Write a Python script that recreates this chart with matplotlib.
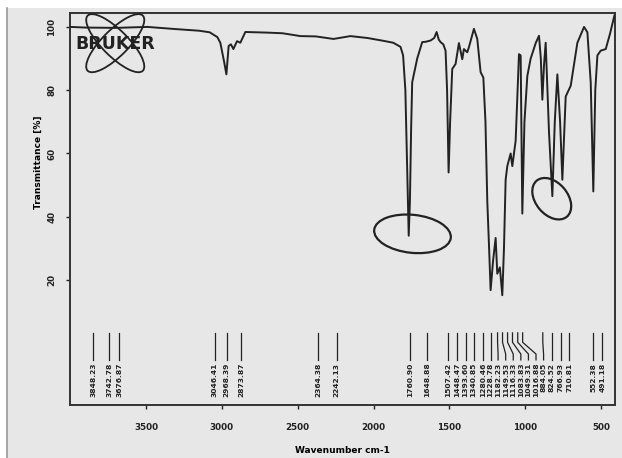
import matplotlib
matplotlib.use("Agg")
import matplotlib.pyplot as plt
from matplotlib.patches import Ellipse, Rectangle
from matplotlib.transforms import ScaledTranslation, blended_transform_factory

# IR spectrum (wavenumber in cm-1, transmittance in %)
wavenumber = [3998, 3900, 3700, 3490, 3300, 3150, 3080, 3030, 3010, 2985, 2970,
              2955, 2940, 2924, 2900, 2878, 2845, 2700, 2600, 2482, 2380, 2264,
              2152, 2040, 1934, 1870, 1822, 1805, 1790, 1778, 1768, 1760, 1752,
              1745, 1712, 1679, 1657, 1624, 1600, 1584, 1570, 1558, 1540, 1525,
              1515, 1505, 1495, 1481, 1459, 1437, 1415, 1404, 1382, 1371, 1338,
              1316, 1294, 1276, 1262, 1250, 1238, 1228, 1212, 1195, 1184, 1167,
              1151, 1140, 1129, 1118, 1096, 1085, 1063, 1041, 1030, 1019, 1005,
              986, 964, 930, 909, 897, 887, 876, 865, 843, 821, 805, 788, 770,
              755, 744, 733, 700, 656, 612, 590, 568, 551, 538, 524, 502, 469,
              440, 412]
transmittance = [100.0, 99.8, 99.7, 100.0, 99.3, 98.8, 98.3, 96.8, 95.0, 89.0, 85.0,
                 94.0, 94.5, 93.0, 95.5, 95.0, 98.4, 98.2, 98.0, 97.1, 97.0, 96.2,
                 97.1, 96.5, 95.6, 95.0, 93.7, 91.0, 80.0, 55.0, 34.0, 45.0, 68.0,
                 82.5, 90.0, 95.2, 95.3, 95.7, 96.5, 98.4, 96.0, 95.2, 94.5, 92.5,
                 80.0, 54.0, 70.0, 86.7, 88.3, 94.9, 89.8, 93.0, 92.0, 93.6, 99.4,
                 96.2, 85.7, 84.0, 70.0, 45.0, 30.0, 16.8, 26.0, 33.3, 22.0, 24.0,
                 15.2, 30.0, 51.7, 56.0, 60.0, 56.0, 64.0, 91.4, 91.0, 41.0, 70.0,
                 84.5, 90.0, 95.0, 97.2, 90.0, 77.0, 88.0, 95.0, 66.6, 46.5, 70.0,
                 85.0, 70.0, 51.7, 65.0, 78.0, 81.4, 95.0, 100.0, 98.3, 82.4, 48.0,
                 80.0, 91.0, 92.5, 93.0, 98.0, 103.6]

# labelled peak positions
peaks = [3848.23, 3742.78, 3676.87, 3046.41, 2968.39, 2873.87, 2364.38, 2242.13,
         1760.90, 1648.88, 1507.42, 1448.47, 1393.60, 1340.85, 1280.46, 1228.78,
         1182.23, 1149.53, 1116.33, 1083.83, 1049.31, 1016.88, 884.05, 824.52,
         766.93, 710.81, 552.38, 491.18]

x_ticks = [3500, 3000, 2500, 2000, 1500, 1000, 500]
y_ticks = [20, 40, 60, 80, 100]

bg = '#e7e7e7'
ink = '#222222'

fig = plt.figure(figsize=(6.22, 4.58), dpi=100, facecolor=bg)
ax = fig.add_axes([70 / 622, 1 - 405 / 458, 545 / 622, 392 / 458], facecolor=bg)

# white page margin at top and left
fig.add_artist(Rectangle((0, 1 - 8 / 458), 1, 8 / 458, transform=fig.transFigure,
                         facecolor='white', edgecolor='none'))
fig.add_artist(Rectangle((0, 0), 6 / 622, 1, transform=fig.transFigure,
                         facecolor='white', edgecolor='none'))
fig.add_artist(plt.Line2D([7 / 622, 7 / 622], [0, 1 - 8 / 458], transform=fig.transFigure,
                          color='#9a9a9a', lw=1.2))

ax.plot(wavenumber, transmittance, color=ink, lw=1.4, zorder=3)
ax.set_xlim(4001, 408)
ax.set_ylim(-19.5, 104.4)

ax.set_xticks(x_ticks)
ax.set_yticks(y_ticks)
ax.tick_params(direction='out', length=3, width=1, colors=ink, labelsize=6.3)
for lab in ax.get_xticklabels():
    lab.set_fontweight('bold')
for lab in ax.get_yticklabels():
    lab.set_fontweight('bold')
    lab.set_rotation(90)
    lab.set_va('center')
ax.tick_params(axis='x', pad=10)
ax.tick_params(axis='y', pad=7)

for s in ax.spines.values():
    s.set_color('#333333')
    s.set_linewidth(1.4)

ax.set_xlabel('Wavenumber cm-1', fontsize=6.5, fontweight='bold', labelpad=10)
ax.set_ylabel('Transmittance [%]', fontsize=6.5, fontweight='bold')
ax.yaxis.set_label_coords(-0.05, 0.62)

# peak picking marks: spread labels so they do not overlap
gap = 50
label_pos = []
for p in peaks:
    if label_pos and p > label_pos[-1] - gap:
        label_pos.append(label_pos[-1] - gap)
    else:
        label_pos.append(p)

tr = blended_transform_factory(ax.transData, ax.transAxes)
for p, lp in zip(peaks, label_pos):
    if abs(p - lp) < 1:
        ax.plot([p, p], [0.184, 0.115], transform=tr, color=ink, lw=0.9)
    else:
        ax.plot([p, p, lp, lp], [0.184, 0.16, 0.13, 0.115], transform=tr, color=ink, lw=0.9)
    ax.text(lp, 0.108, f'{p:.2f}', transform=tr, rotation=90, ha='center', va='top',
            fontsize=5.4, fontweight='bold', color=ink)

# hand-drawn circles around the bands of interest
def ring(x, y, w, h, angle):
    t = fig.dpi_scale_trans + ScaledTranslation(x, y, ax.transData)
    ax.add_artist(Ellipse((0, 0), w, h, angle=angle, transform=t, fill=False,
                          edgecolor=ink, lw=1.6, zorder=4))

ring(1743, 34.6, 0.77, 0.38, -6)
ring(825, 45.7, 0.47, 0.32, -50)

# Bruker logo
logo = fig.dpi_scale_trans + ScaledTranslation(0.083, 0.923, ax.transAxes)
for ang in (45, -45):
    ax.add_artist(Ellipse((0, 0), 0.78, 0.26, angle=ang, transform=logo, fill=False,
                          edgecolor=ink, lw=1.3, zorder=5))
ax.text(0.083, 0.92, 'BRUKER', transform=ax.transAxes, ha='center', va='center',
        fontsize=12.5, fontweight='bold', color=ink, zorder=6)

fig.savefig('out.png', dpi=100, facecolor=bg)
